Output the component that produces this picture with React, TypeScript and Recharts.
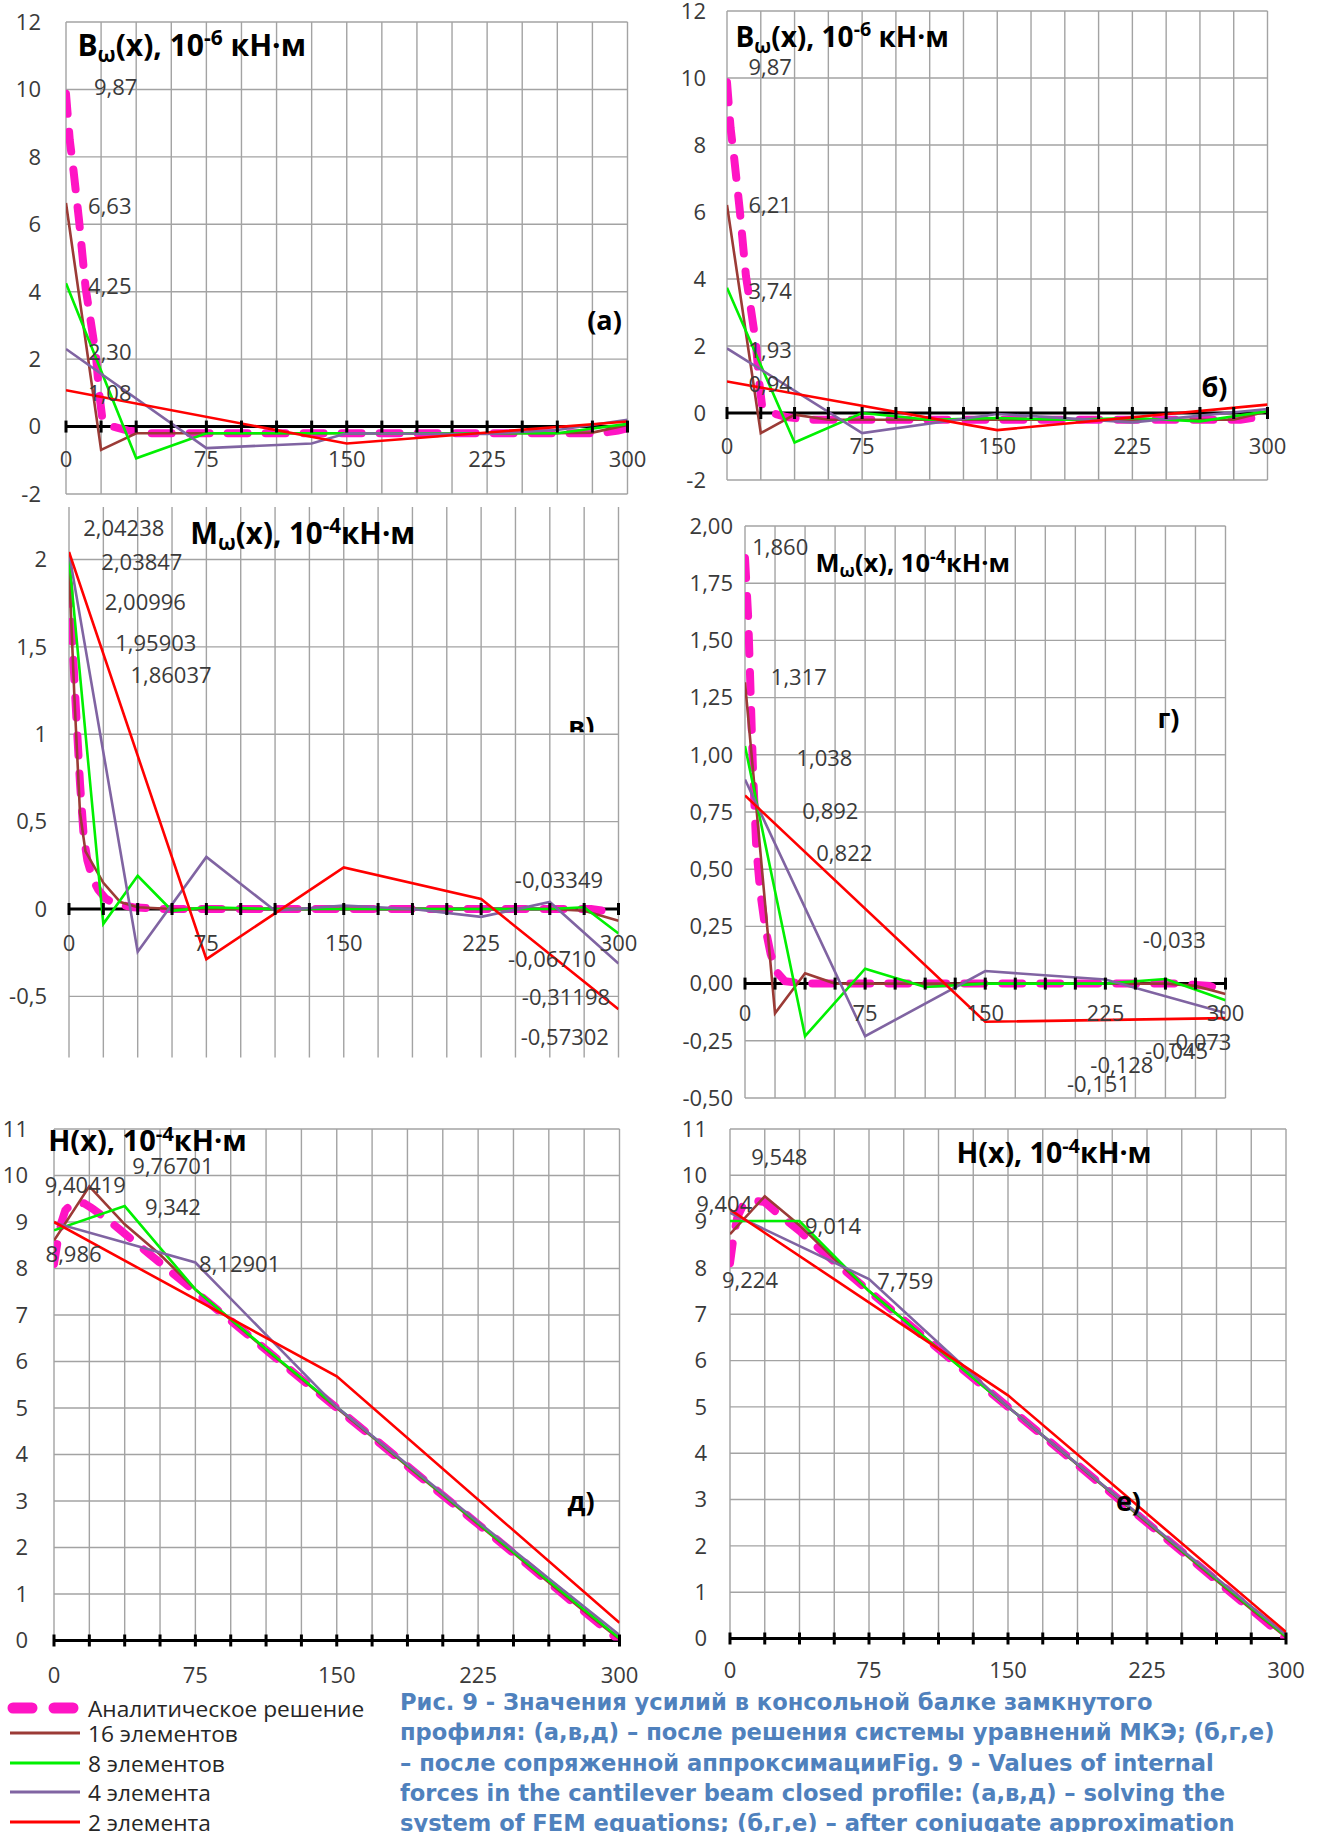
import React from 'react';
import { ComposedChart, Line, XAxis, YAxis, ReferenceLine, ReferenceDot } from 'recharts';

const FONT = '"Open Sans", "DejaVu Sans", sans-serif';
const TXT = '#3a3a3a';
const GRID = '#a3a3a3';

// ---------- shared ----------
const gridX = [0, 18.75, 37.5, 56.25, 75, 93.75, 112.5, 131.25, 150, 168.75, 187.5, 206.25, 225, 243.75, 262.5, 281.25, 300];
const xTickLabels = [0, 75, 150, 225, 300];
const seriesNames = ['Аналитическое решение', '16 элементов', '8 элементов', '4 элемента', '2 элемента'];
const seriesColors = ['#FF14C4', '#9B3B36', '#00F000', '#8064A2', '#FF0000'];

// ---------- B_omega : (a) after FEM, (б) after conjugate approximation ----------
const bTicks = [-2, 0, 2, 4, 6, 8, 10, 12];
const bAnalytic = [[0, 9.87], [2, 8.5], [4, 7.6], [7, 6.1], [10.5, 4.1], [13, 3.2], [16, 2.1], [17.7, 1.0], [19.5, 0.2], [25, 0.0], [33, -0.12], [45, -0.2], [100, -0.2], [150, -0.2], [200, -0.2], [250, -0.2], [285, -0.2], [295, -0.12], [300, -0.05]];
const bA16 = [[0, 6.63], [18.75, -0.69], [37.5, -0.2], [56.25, -0.2], [75, -0.2], [93.75, -0.2], [112.5, -0.2], [131.25, -0.2], [150, -0.2], [168.75, -0.2], [187.5, -0.2], [206.25, -0.2], [225, -0.2], [243.75, -0.2], [262.5, -0.2], [281.25, -0.18], [300, 0.05]];
const bA8 = [[0, 4.25], [37.5, -0.94], [75, -0.2], [112.5, -0.2], [150, -0.2], [187.5, -0.2], [225, -0.2], [262.5, -0.2], [300, 0.08]];
const bA4 = [[0, 2.30], [75, -0.64], [131.25, -0.5], [150, -0.2], [225, -0.22], [262.5, -0.1], [300, 0.2]];
const bA2 = [[0, 1.08], [150, -0.5], [300, 0.15]];
const bB16 = [[0, 6.21], [18.75, -0.6], [37.5, -0.05], [56.25, -0.2], [75, -0.2], [93.75, -0.2], [112.5, -0.2], [131.25, -0.2], [150, -0.2], [168.75, -0.2], [187.5, -0.2], [206.25, -0.2], [225, -0.2], [243.75, -0.2], [262.5, -0.2], [281.25, -0.2], [300, 0.05]];
const bB8 = [[0, 3.74], [37.5, -0.88], [75, 0.0], [112.5, -0.2], [150, -0.15], [187.5, -0.2], [225, -0.15], [262.5, -0.25], [300, 0.05]];
const bB4 = [[0, 1.93], [75, -0.6], [150, -0.03], [225, -0.28], [300, 0.12]];
const bB2 = [[0, 0.94], [150, -0.51], [300, 0.25]];
const bLabelsA = [[26.5, 10.1, '9,87'], [23.4, 6.57, '6,63'], [23.4, 4.21, '4,25'], [23.4, 2.24, '2,30'], [23.4, 1.03, '1,08']];
const bLabelsB = [[24, 10.36, '9,87'], [24, 6.23, '6,21'], [24, 3.68, '3,74'], [24, 1.9, '1,93'], [24, 0.89, '0,94']];

// ---------- M_omega : (в), (г) ----------
const mTicksV = [-0.5, 0, 0.5, 1, 1.5, 2];
const mTicksG = [-0.5, -0.25, 0, 0.25, 0.5, 0.75, 1, 1.25, 1.5, 1.75, 2];
const mAnalyticV = [[0, 1.86037], [2, 1.5], [4, 1.1], [6, 0.72], [8, 0.42], [10, 0.28], [13, 0.17], [16, 0.11], [20, 0.06], [25, 0.03], [35, 0.01], [50, 0], [100, 0], [150, 0], [200, 0], [250, 0], [285, 0], [295, -0.015], [300, -0.03349]];
const mV16 = [[0, 1.95903], [3, 1.2], [6, 0.55], [9, 0.33], [18.75, 0.15], [28, 0.04], [37.5, 0.01], [56.25, 0], [75, 0], [112.5, 0], [150, 0], [187.5, 0], [225, 0], [262.5, 0], [281.25, -0.01], [300, -0.0671]];
const mV8 = [[0, 2.00996], [18.75, -0.085], [37.5, 0.19], [56.25, -0.01], [75, 0.01], [112.5, 0], [150, 0], [187.5, 0], [225, 0], [262.5, 0], [281.25, 0.01], [300, -0.14]];
const mV4 = [[0, 2.03847], [37.5, -0.245], [75, 0.298], [112.5, -0.01], [150, 0.02], [187.5, 0], [225, -0.045], [262.5, 0.04], [300, -0.31198]];
const mV2 = [[0, 2.04238], [75, -0.287], [150, 0.238], [225, 0.057], [300, -0.57302]];
const mAnalyticG = [[0, 1.86], [2, 1.6], [3.5, 1.27], [5, 0.93], [7, 0.6], [9.5, 0.4], [12.5, 0.25], [16, 0.13], [20, 0.05], [25, 0.01], [37.5, 0], [75, 0], [150, 0], [225, 0], [270, 0], [290, -0.01], [300, -0.033]];
const mG16 = [[0, 1.317], [18.75, -0.13], [37.5, 0.045], [56.25, 0], [75, 0], [112.5, 0], [150, 0], [187.5, 0], [225, 0], [262.5, 0], [281.25, -0.01], [300, -0.045]];
const mG8 = [[0, 1.038], [37.5, -0.23], [75, 0.065], [112.5, -0.015], [150, 0], [187.5, 0], [225, 0], [262.5, 0.02], [300, -0.073]];
const mG4 = [[0, 0.892], [75, -0.23], [150, 0.055], [225, 0.018], [300, -0.128]];
const mG2 = [[0, 0.822], [150, -0.167], [300, -0.151]];
const mLabelsV = [[29.9, 2.185, '2,04238'], [39.8, 1.992, '2,03847'], [41.7, 1.765, '2,00996'], [47.4, 1.525, '1,95903'], [55.7, 1.344, '1,86037'], [267.5, 0.174, '-0,03349'], [263.7, -0.28, '-0,06710'], [271.3, -0.5, '-0,31198'], [270.7, -0.728, '-0,57302']];
const mLabelsG = [[22, 1.914, '1,860'], [33.6, 1.343, '1,317'], [49.6, 0.99, '1,038'], [53.3, 0.76, '0,892'], [62, 0.576, '0,822'], [268, 0.194, '-0,033'], [284, -0.251, '-0,073'], [269.5, -0.292, '-0,045'], [235.3, -0.353, '-0,128'], [220.7, -0.434, '-0,151']];

// ---------- H : (д), (е) ----------
const hTicks = [0, 1, 2, 3, 4, 5, 6, 7, 8, 9, 10, 11];
const hAnalyticD = [[0, 8.1], [2, 8.6], [4, 9.0], [6, 9.25], [9, 9.38], [12, 9.42], [16, 9.4], [20, 9.3], [25, 9.15], [30, 9.0], [37.5, 8.75], [50, 8.33], [75, 7.5], [100, 6.67], [125, 5.83], [150, 5.0], [175, 4.17], [200, 3.33], [225, 2.5], [250, 1.67], [275, 0.83], [300, 0]];
const hD16 = [[0, 8.6], [18.75, 9.767], [37.5, 8.95], [56.25, 8.3], [75, 7.55], [93.75, 6.9], [112.5, 6.25], [131.25, 5.63], [150, 5.0], [168.75, 4.38], [187.5, 3.75], [206.25, 3.13], [225, 2.5], [243.75, 1.88], [262.5, 1.25], [281.25, 0.63], [300, 0.03]];
const hD8 = [[0, 8.82], [37.5, 9.342], [75, 7.55], [112.5, 6.27], [150, 5.02], [187.5, 3.77], [225, 2.52], [262.5, 1.28], [300, 0.05]];
const hD4 = [[0, 8.986], [75, 8.129], [150, 5.02], [225, 2.55], [300, 0.12]];
const hD2 = [[0, 9.0], [150, 5.68], [300, 0.38]];
const hAnalyticE = [[0, 8.1], [2, 8.7], [4, 9.1], [7, 9.35], [10, 9.4], [14, 9.45], [18.75, 9.42], [25, 9.2], [37.5, 8.8], [50, 8.35], [75, 7.5], [100, 6.67], [125, 5.83], [150, 5.0], [175, 4.17], [200, 3.33], [225, 2.5], [250, 1.67], [275, 0.83], [300, 0]];
const hE16 = [[0, 8.73], [18.75, 9.548], [37.5, 8.92], [56.25, 8.2], [75, 7.5], [93.75, 6.88], [112.5, 6.25], [131.25, 5.63], [150, 5.0], [168.75, 4.38], [187.5, 3.75], [206.25, 3.13], [225, 2.5], [243.75, 1.88], [262.5, 1.25], [281.25, 0.63], [300, 0.03]];
const hE8 = [[0, 9.014], [37.5, 9.014], [75, 7.5], [112.5, 6.25], [150, 5.0], [187.5, 3.76], [225, 2.52], [262.5, 1.28], [300, 0.05]];
const hE4 = [[0, 9.19], [75, 7.759], [150, 5.0], [225, 2.53], [300, 0.08]];
const hE2 = [[0, 9.26], [150, 5.25], [300, 0.14]];
const hLabelsD = [[16.6, 9.82, '9,40419'], [10.4, 8.34, '8,986'], [63.1, 10.22, '9,76701'], [63.1, 9.34, '9,342'], [98.5, 8.11, '8,12901']];
const hLabelsE = [[26.6, 10.42, '9,548'], [-3.1, 9.41, '9,404'], [55.6, 8.93, '9,014'], [10.8, 7.77, '9,224'], [94.6, 7.75, '7,759']];

const caption = [
  'Рис. 9 - Значения усилий в консольной балке замкнутого',
  'профиля: (а,в,д) – после решения системы уравнений МКЭ; (б,г,е)',
  '– после сопряженной аппроксимацииFig. 9 - Values of internal',
  'forces in the cantilever beam closed profile: (а,в,д) – solving the',
  'system of FEM equations; (б,г,е) – after conjugate approximation',
];

const toPts = (a: number[][]) => a.map(([x, y]) => ({ x, y }));

type Title = { x: number; y: number; main: string; sub: string; mid: string; sup: string; tail: string; size: number };
type Tag = { x: number; y: number; t: string; clip?: boolean };

function Panel(props: {
  box: { x0: number; x1: number; y0: number; y1: number };
  yDomain: [number, number]; yTicks: number[]; fmt: (v: number) => string; gap: number;
  series: number[][][]; labels: any[]; title: Title; tag: Tag; xlDy: number; id: string;
}) {
  const { box, yDomain, yTicks, fmt, gap, series, labels, title, tag, xlDy, id } = props;
  const ML = 90, MT = 50, MR = 40, MB = 60;
  const w = box.x1 - box.x0, h = box.y1 - box.y0;
  const s = title.size, r = 0.7;
  return (
    <div style={{ position: 'absolute', left: box.x0 - ML, top: box.y0 - MT }}>
      <ComposedChart width={w + ML + MR} height={h + MT + MB} margin={{ top: MT, right: MR, bottom: MB, left: 0 }}>
        <XAxis type="number" dataKey="x" domain={[0, 300]} ticks={gridX} tick={false} tickLine={false} axisLine={false} height={0} allowDataOverflow interval={0} />
        <YAxis type="number" domain={yDomain} ticks={yTicks} width={ML} tickFormatter={fmt} tickLine={false} axisLine={false} tickSize={0} tickMargin={gap} interval={0} allowDataOverflow
          tick={{ fontSize: 22, fill: TXT, fontFamily: FONT }} />
        {gridX.map((x) => <ReferenceLine key={'gx' + x} x={x} stroke={GRID} strokeWidth={1.4} />)}
        {yTicks.map((y) => <ReferenceLine key={'gy' + y} y={y} stroke={GRID} strokeWidth={1.4} />)}
        <ReferenceLine y={0} stroke="#000" strokeWidth={3} ifOverflow="visible" />
        {gridX.map((x) => (
          <ReferenceDot key={'tk' + x} x={x} y={0} r={1} ifOverflow="visible"
            shape={(p: any) => <line x1={p.cx} x2={p.cx} y1={p.cy - 6} y2={p.cy + 6} stroke="#000" strokeWidth={3} />} />
        ))}
        {xTickLabels.map((x) => (
          <ReferenceDot key={'xl' + x} x={x} y={0} r={1} ifOverflow="visible"
            shape={(p: any) => <text x={p.cx} y={p.cy + xlDy} textAnchor="middle" dominantBaseline="central" fontSize={22} fill={TXT} fontFamily={FONT}>{x}</text>} />
        ))}
        {series.map((d, i) => (
          <Line key={'s' + i} data={toPts(d)} dataKey="y" type="linear" stroke={seriesColors[i]} name={seriesNames[i]}
            strokeWidth={i === 0 ? 8 : 2.6} strokeDasharray={i === 0 ? '20 18' : undefined} strokeLinecap={i === 0 ? 'round' : 'butt'}
            dot={false} activeDot={false} isAnimationActive={false} />
        ))}
        {labels.map(([x, y, t]: any, i: number) => (
          <ReferenceDot key={'lb' + i} x={x} y={y} r={1} ifOverflow="visible"
            shape={(p: any) => <text x={p.cx} y={p.cy} textAnchor="middle" dominantBaseline="central" fontSize={22} fill={TXT} fontFamily={FONT}>{t}</text>} />
        ))}
        <ReferenceDot x={title.x} y={title.y} r={1} ifOverflow="visible"
          shape={(p: any) => (
            <text x={p.cx} y={p.cy} fontSize={s} fontWeight={700} fill="#000" fontFamily={FONT}>
              {title.main}
              <tspan fontSize={s * r} dy={s * 0.22}>{title.sub}</tspan>
              <tspan dy={-s * 0.22}>{title.mid}</tspan>
              <tspan fontSize={s * r} dy={-s * 0.36}>{title.sup}</tspan>
              <tspan dy={s * 0.36}>{title.tail}</tspan>
            </text>
          )} />
        <ReferenceDot x={tag.x} y={tag.y} r={1} ifOverflow="visible"
          shape={(p: any) => {
            if (tag.clip) {
              const cid = 'clipTag' + id;
              return (
                <g>
                  <defs><clipPath id={cid}><rect x={p.cx - 40} y={p.cy - 40} width={80} height={38} /></clipPath></defs>
                  <text x={p.cx} y={p.cy + 2} textAnchor="middle" fontSize={27} fontWeight={700} fill="#000" fontFamily={FONT} clipPath={`url(#${cid})`}>{tag.t}</text>
                </g>
              );
            }
            return <text x={p.cx} y={p.cy} textAnchor="middle" dominantBaseline="central" fontSize={27} fontWeight={700} fill="#000" fontFamily={FONT}>{tag.t}</text>;
          }} />
      </ComposedChart>
    </div>
  );
}

const fInt = (v: number) => String(v);
const f1 = (v: number) => (Number.isInteger(v) ? String(v) : String(v).replace('.', ','));
const f2 = (v: number) => v.toFixed(2).replace('.', ',');

export default function App() {
  return (
    <div style={{ position: 'absolute', left: 0, top: 0, width: 1319, height: 1832, background: '#fff', overflow: 'hidden' }}>
      <Panel id="a" box={{ x0: 66, x1: 627.5, y0: 21.5, y1: 493.5 }} yDomain={[-2, 12]} yTicks={bTicks} fmt={fInt} gap={25}
        series={[bAnalytic, bA16, bA8, bA4, bA2]} labels={bLabelsA} xlDy={31}
        title={{ x: 6.1, y: 11.0, main: 'B', sub: 'ω', mid: '(x), 10', sup: '-6', tail: ' кН·м', size: 30 }}
        tag={{ x: 287.7, y: 3.18, t: '(a)' }} />
      <Panel id="b" box={{ x0: 727, x1: 1267.5, y0: 10.5, y1: 479.5 }} yDomain={[-2, 12]} yTicks={bTicks} fmt={fInt} gap={21}
        series={[bAnalytic, bB16, bB8, bB4, bB2]} labels={bLabelsB} xlDy={32}
        title={{ x: 4.7, y: 10.94, main: 'B', sub: 'ω', mid: '(x), 10', sup: '-6', tail: ' кН·м', size: 28 }}
        tag={{ x: 270.6, y: 0.79, t: 'б)' }} />
      <Panel id="v" box={{ x0: 68.5, x1: 618, y0: 507, y1: 1057.6 }} yDomain={[-0.85, 2.3]} yTicks={mTicksV} fmt={f1} gap={22}
        series={[mAnalyticV, mV16, mV8, mV4, mV2]} labels={mLabelsV} xlDy={33}
        title={{ x: 66.2, y: 2.09, main: 'M', sub: 'ω', mid: '(x), 10', sup: '-4', tail: 'кН·м', size: 29.5 }}
        tag={{ x: 279.7, y: 1, t: 'в)', clip: true }} />
      <Panel id="g" box={{ x0: 744.5, x1: 1225, y0: 526, y1: 1098 }} yDomain={[-0.5, 2]} yTicks={mTicksG} fmt={f2} gap={12}
        series={[mAnalyticG, mG16, mG8, mG4, mG2]} labels={mLabelsG} xlDy={28}
        title={{ x: 44, y: 1.8, main: 'M', sub: 'ω', mid: '(x), 10', sup: '-4', tail: 'кН·м', size: 25.5 }}
        tag={{ x: 264.4, y: 1.164, t: 'г)' }} />
      <Panel id="d" box={{ x0: 54, x1: 619.5, y0: 1128.5, y1: 1640 }} yDomain={[0, 11]} yTicks={hTicks} fmt={fInt} gap={26}
        series={[hAnalyticD, hD16, hD8, hD4, hD2]} labels={hLabelsD} xlDy={33}
        title={{ x: -3.1, y: 10.52, main: 'H(x), 10', sub: '', mid: '', sup: '-4', tail: 'кН·м', size: 29 }}
        tag={{ x: 279.6, y: 3.01, t: 'д)' }} />
      <Panel id="e" box={{ x0: 730, x1: 1286, y0: 1128.5, y1: 1638 }} yDomain={[0, 11]} yTicks={hTicks} fmt={fInt} gap={23}
        series={[hAnalyticE, hE16, hE8, hE4, hE2]} labels={hLabelsE} xlDy={30}
        title={{ x: 122.2, y: 10.27, main: 'H(x), 10', sub: '', mid: '', sup: '-4', tail: 'кН·м', size: 28.5 }}
        tag={{ x: 215, y: 2.98, t: 'е)' }} />

      <svg style={{ position: 'absolute', left: 0, top: 1690 }} width={400} height={142}>
        {seriesNames.map((n, i) => {
          const y = [18, 43, 73, 102, 132][i];
          return (
            <g key={n}>
              <line x1={i === 0 ? 13 : 10} x2={i === 0 ? 74 : 80} y1={y} y2={y} stroke={seriesColors[i]}
                strokeWidth={i === 0 ? 11 : 3.2} strokeLinecap={i === 0 ? 'round' : 'butt'} strokeDasharray={i === 0 ? '19 22' : undefined} />
              <text x={88} y={y} dominantBaseline="central" fontSize={22.7} fill="#262626" fontFamily={FONT}>{n}</text>
            </g>
          );
        })}
      </svg>
      <div style={{ position: 'absolute', left: 400, top: 1687, fontFamily: '"DejaVu Sans", sans-serif', fontWeight: 700, fontSize: 22.6, lineHeight: '30.3px', color: '#4F81BD', whiteSpace: 'pre' }}>
        {caption.map((c, i) => <div key={i}>{c}</div>)}
      </div>
    </div>
  );
}
